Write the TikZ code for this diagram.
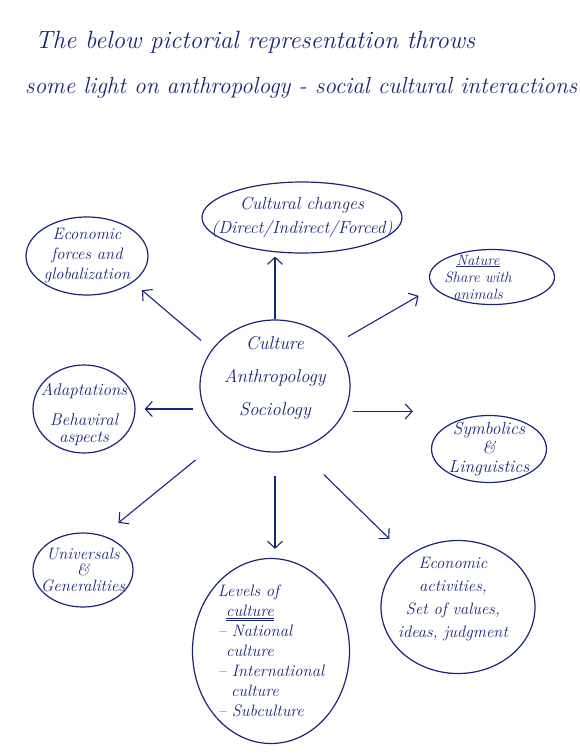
\documentclass[tikz,border=0pt]{standalone}
\usetikzlibrary{shapes.geometric,arrows.meta}
\definecolor{ink}{RGB}{28,36,118}
\begin{document}
\begin{tikzpicture}[x=1pt,y=-1pt,
    bubble/.style={ellipse,draw=ink,line width=1.2pt,inner sep=0pt},
    txt/.style={text=ink,align=center,inner sep=0pt},
    arr/.style={draw=ink,line width=1.1pt,-{Straight Barb[length=7pt,width=15pt,line width=1.1pt]}}]
    \useasboundingbox (0,0) rectangle (580,756);
    \node[txt,anchor=base west,font=\itshape\fontsize{25}{30}\selectfont] (title1) at (35,48) {The below pictorial representation throws};
    \node[txt,anchor=base west,font=\itshape\fontsize{23.3}{28}\selectfont] (title2) at (25,93) {some light on anthropology - social cultural interactions};
    \node[bubble,minimum width=150pt,minimum height=132pt,label={[txt,yshift=8pt,font=\itshape\fontsize{18.5}{33}\selectfont]center:{Culture\\Anthropology\\Sociology}}] (ctr) at (275,386) {};
    \node[bubble,minimum width=200pt,minimum height=71pt,label={[txt,font=\itshape\fontsize{17.5}{24}\selectfont]center:{Cultural changes\\(Direct/Indirect/Forced)}}] (chg) at (302,217.5) {};
    \node[bubble,minimum width=122pt,minimum height=78pt,label={[txt,font=\itshape\fontsize{16.5}{20}\selectfont]center:{Economic\\forces and\\globalization}}] (eco) at (87,256) {};
    \node[bubble,minimum width=125pt,minimum height=55pt,label={[txt,xshift=-14pt,font=\itshape\fontsize{15}{17}\selectfont]center:{\underline{Nature}\\Share with\\animals}}] (nat) at (492,277) {};
    \node[bubble,minimum width=102pt,minimum height=88pt,label={[txt,yshift=-6pt,font=\itshape\fontsize{17}{17}\selectfont]center:{Adaptations\\[13pt]Behaviral\\aspects}}] (ada) at (84,409) {};
    \node[bubble,minimum width=115pt,minimum height=67pt,label={[txt,font=\itshape\fontsize{17.5}{19}\selectfont]center:{Symbolics\\\&\\Linguistics}}] (sym) at (489,449) {};
    \node[bubble,minimum width=100pt,minimum height=74pt,label={[txt,font=\itshape\fontsize{16.5}{16}\selectfont]center:{Universals\\\&\\Generalities}}] (uni) at (83,570) {};
    \node[bubble,minimum width=157pt,minimum height=185pt,label={[txt,align=left,font=\itshape\fontsize{16.5}{20}\selectfont]center:{Levels of\\\hspace*{0.5em}\underline{\underline{culture}}\\-- National\\\hspace*{0.5em}culture\\-- International\\\hspace*{0.8em}culture\\-- Subculture}}] (lev) at (271,651) {};
    \node[bubble,minimum width=154pt,minimum height=133pt,label={[txt,yshift=8pt,xshift=-5pt,font=\itshape\fontsize{16.5}{23}\selectfont]center:{Economic\\activities,\\Set of values,\\ideas, judgment}}] (act) at (458,607) {};
    \draw[arr,shorten >=3pt] (ctr.north) -- (ctr.north |- chg.south);
    \draw[arr,shorten <=14pt,shorten >=12pt] (ctr.150) -- (eco.-30);
    \draw[arr,shorten <=16pt,shorten >=17pt] (ctr.35) -- (nat.190);
    \draw[arr,shorten <=6pt,shorten >=9pt] (ctr.west |- ada.east) -- (ada.east);
    \draw[arr,shorten <=8pt,shorten >=18pt] (ctr.-20) -- (ctr.-20 -| sym.west);
    \draw[arr,shorten <=38pt,shorten >=20pt] (ctr.225) -- (uni.60);
    \draw[arr,shorten <=23pt,shorten >=9pt] (ctr.south) -- (ctr.south |- lev.north);
    \draw[arr,shorten <=36pt,shorten >=25pt] (ctr.-70) -- (act.135);
\end{tikzpicture}
\end{document}
